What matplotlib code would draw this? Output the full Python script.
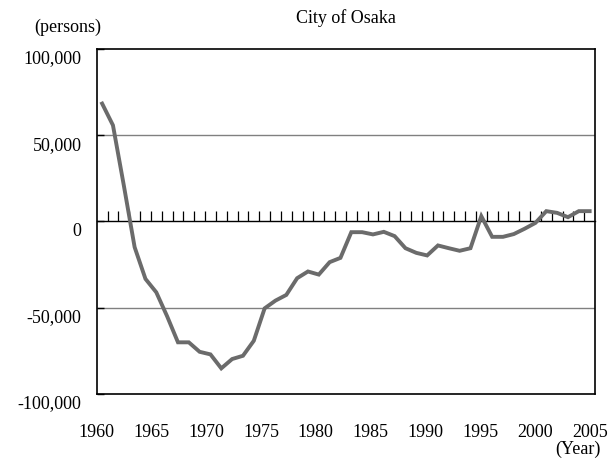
import numpy as np
import matplotlib.pyplot as plt
from matplotlib.transforms import ScaledTranslation

# natural increase/decrease, City of Osaka
years = list(range(1960, 2006))
change = [68400, 55800, 21000, -14900, -33300, -41100, -55000, -70100, -70100, -75600,
          -77100, -85200, -79800, -77900, -69200, -50400, -45900, -42600, -32900, -29000,
          -30800, -23600, -21100, -6200, -6200, -7500, -6000, -8500, -15500, -18200,
          -19700, -13900, -15500, -17000, -15500, 3100, -8900, -8900, -7300, -4200,
          -800, 6000, 5000, 2500, 6000, 6000]
label_years = ["1960", "1965", "1970", "1975", "1980", "1985", "1990", "1995", "2000", "2005"]
yticks = [-100000, -50000, 0, 50000, 100000]
ytick_labels = ["-100,000", "-50,000", "0", "50,000", "100,000"]

plt.rcParams['font.family'] = ['Liberation Serif', 'DejaVu Serif']

fig = plt.figure(figsize=(6.16, 4.64), dpi=100)
ax = fig.add_axes([0.157, 0.149, 0.809, 0.743])

x = np.array(years)
ax.set_xlim(x[0] - 0.5, x[-1] + 0.5)
ax.set_ylim(-100000, 100000)

for g in (-50000, 50000):
    ax.axhline(g, color="#808080", lw=1.0, zorder=1)

# zero line with year ticks pointing up
zero = ax.secondary_xaxis(0.5)
zero.set_xticks(x[:-1] + 0.5)
zero.set_xticklabels([])
zero.tick_params(direction="out", length=7, width=0.9, color="black")
for s in zero.spines.values():
    s.set_linewidth(1.0)

ax.plot(x, change, color="#6b6b6b", lw=2.8, solid_joinstyle="miter", zorder=5)

ax.set_xticks(np.linspace(x[0] - 0.5, x[-1], len(label_years)))
ax.set_xticklabels(label_years)
ax.tick_params(axis="x", length=0, pad=21, labelsize=13)

ax.set_yticks(yticks)
ax.set_yticklabels(ytick_labels)
ax.tick_params(axis="y", direction="in", length=5, width=1, pad=11, labelsize=13)
off = ScaledTranslation(0, -5 / 72, fig.dpi_scale_trans)
for lab in ax.get_yticklabels():
    lab.set_transform(lab.get_transform() + off)

for s in ax.spines.values():
    s.set_linewidth(1.2)

fig.text(0.561, 0.961, "City of Osaka", ha="center", va="center", fontsize=13)
fig.text(0.110, 0.941, "(persons)", ha="center", va="center", fontsize=13)
fig.text(0.938, 0.032, "(Year)", ha="center", va="center", fontsize=13)

fig.savefig("out.png", dpi=100)
